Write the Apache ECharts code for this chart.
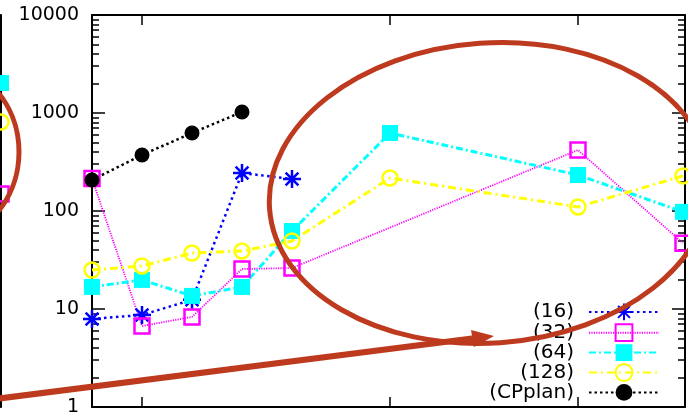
<!DOCTYPE html>
<html>
<head>
<meta charset="utf-8">
<script src="https://cdn.jsdelivr.net/npm/echarts@6/dist/echarts.min.js"></script>
<style>
  html, body { margin: 0; padding: 0; background: #fff; }
  #chart { width: 688px; height: 416px; }
</style>
</head>
<body>
<div id="chart"></div>
<script>
// x position of each run (axis units) shared by every series
const xs = [0, 1, 2, 3, 4, 5.96, 9.72, 11.82];
const xTicks = [1, 5.96, 9.72];
const yTickLabels = [1, 10, 100, 1000, 10000];

const names = ['(16)', '(32)', '(64)', '(128)', '(CPplan)'];
const s16  = [7.9, 8.7, 12.4, 244, 212, null, null, null];
const s32  = [215, 6.7, 8.3, 25.6, 26.2, null, 419, 47];
const s64  = [16.8, 19.8, 13.6, 16.8, 62.5, 625, 233, 98];
const s128 = [25, 27.5, 37.3, 39, 49.4, 217, 110, 228];
const sCP  = [207, 373, 625, 1024, null, null, null, null];

// neighbouring panel: only its last column reaches into view
const prevX = [10];
const prev32 = [149];
const prev64 = [2024];
const prev128 = [810];

const minorTicks = [];
[1, 10, 100, 1000].forEach(d => { for (let k = 2; k <= 9; k++) minorTicks.push(d * k); });

const pairs = (xv, yv) => xv.map((x, i) => [x, yv[i]]).filter(p => p[1] != null);

const RED = '#bd3a1e';
const FONT = 'DejaVu Sans';

const axisLine = { show: true, onZero: false, lineStyle: { color: '#000', width: 2 } };

function yAxis(pos, major, labels, gridIndex) {
  return {
    gridIndex: gridIndex || 0,
    type: 'log', logBase: 10, min: 1, max: 10000,
    position: pos,
    axisLine: major ? axisLine : { show: false, onZero: false },
    axisTick: {
      show: true, inside: true, length: major ? 13 : 7,
      customValues: major ? yTickLabels : minorTicks,
      lineStyle: { color: '#000', width: 1.5 }
    },
    axisLabel: labels ? {
      show: true, customValues: yTickLabels, margin: 13,
      formatter: v => String(v),
      fontFamily: FONT, fontSize: 19, color: '#000'
    } : { show: false },
    splitLine: { show: false },
    minorTick: { show: false }
  };
}

function xAxis(pos) {
  return {
    gridIndex: 0, type: 'value', min: 0, max: 11.86, position: pos,
    axisLine: axisLine,
    axisTick: { show: true, inside: true, length: 10, customValues: xTicks,
                lineStyle: { color: '#000', width: 1.5 } },
    axisLabel: { show: false },
    splitLine: { show: false }
  };
}

const asterisk = 'path://M10,0L10,20M0,10L20,10M2.9,2.9L17.1,17.1M2.9,17.1L17.1,2.9';

const styles = {
  '(16)':  { symbol: asterisk, symbolSize: 18, color: '#0000ff', fill: 'none', bw: 2.5, dash: [2.5, 3.5], lw: 2.5 },
  '(32)':  { symbol: 'rect', symbolSize: 15, color: '#ff00ff', fill: 'none', bw: 2.5, dash: [1.2, 1.2], lw: 1.8 },
  '(64)':  { symbol: 'rect', symbolSize: 16, color: '#00ffff', fill: '#00ffff', bw: 0, dash: [7, 3, 2, 3], lw: 3 },
  '(128)': { symbol: 'circle', symbolSize: 15, color: '#ffff00', fill: 'none', bw: 2.5, dash: [8, 4, 2, 4], lw: 3 },
  '(CPplan)': { symbol: 'circle', symbolSize: 15, color: '#000000', fill: '#000000', bw: 0, dash: [2.5, 3], lw: 2.5 }
};

function lineSeries(name, data, xi, yi, legendName) {
  const st = styles[legendName || name];
  return {
    name: name, type: 'line', xAxisIndex: xi, yAxisIndex: yi,
    data: data, clip: false,
    symbol: st.symbol, symbolSize: st.symbolSize, showAllSymbol: true,
    itemStyle: { color: st.fill, borderColor: st.color, borderWidth: st.bw },
    lineStyle: { color: st.color, width: st.lw, type: st.dash, cap: 'butt' },
    emphasis: { disabled: true },
    animation: false
  };
}

const chart = echarts.init(document.getElementById('chart'), null, { renderer: 'canvas' });
chart.setOption({
  backgroundColor: '#fff',
  animation: false,
  grid: [
    { left: 92, right: 3, top: 15, bottom: 9, containLabel: false, outerBoundsMode: 'none' },
    { left: -299, width: 300, top: 15, bottom: 9, containLabel: false, outerBoundsMode: 'none' }
  ],
  xAxis: [
    xAxis('bottom'),
    xAxis('top'),
    { gridIndex: 1, type: 'value', min: 0, max: 10, show: false }
  ],
  yAxis: [
    yAxis('left', true, true),
    yAxis('left', false, false),
    yAxis('right', true, false),
    yAxis('right', false, false),
    yAxis('right', true, false, 1),
    yAxis('right', false, false, 1)
  ],
  legend: {
    orient: 'vertical', align: 'right',
    right: 28, top: 301, padding: 0,
    itemWidth: 70, itemHeight: 21, itemGap: -1,
    selectedMode: false,
    data: names,
    textStyle: { fontFamily: FONT, fontSize: 20, color: '#000', padding: [0, 10, 0, 0] }
  },
  series: [
    lineSeries('(16)', pairs(xs, s16), 0, 0),
    lineSeries('(32)', pairs(xs, s32), 0, 0),
    lineSeries('(64)', pairs(xs, s64), 0, 0),
    lineSeries('(128)', pairs(xs, s128), 0, 0),
    lineSeries('(CPplan)', pairs(xs, sCP), 0, 0),
    lineSeries('prev 64', pairs(prevX, prev64), 2, 4, '(64)'),
    lineSeries('prev 128', pairs(prevX, prev128), 2, 4, '(128)'),
    lineSeries('prev 32', pairs(prevX, prev32), 2, 4, '(32)')
  ],
  graphic: [
    { type: 'ellipse', z: 100, silent: true,
      shape: { cx: 490, cy: 193, rx: 221, ry: 150 },
      originX: 490, originY: 193, rotation: 0.07,
      style: { fill: 'none', stroke: RED, lineWidth: 5 } },
    { type: 'ellipse', z: 100, silent: true,
      shape: { cx: -65, cy: 152, rx: 84, ry: 90 },
      style: { fill: 'none', stroke: RED, lineWidth: 5 } },
    { type: 'line', z: 100, silent: true,
      shape: { x1: -5, y1: 399, x2: 476, y2: 338 },
      style: { stroke: RED, lineWidth: 6 } },
    { type: 'polygon', z: 100, silent: true,
      shape: { points: [[494, 336], [474, 347], [471, 330]] },
      style: { fill: RED } }
  ]
});
</script>
</body>
</html>
